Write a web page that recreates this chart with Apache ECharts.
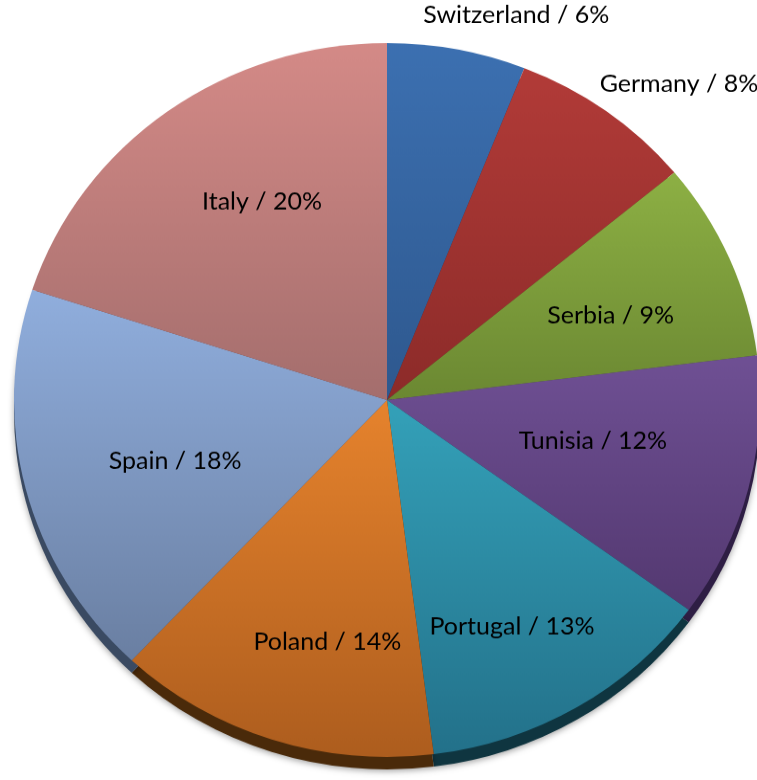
<!DOCTYPE html>
<html>
<head>
<meta charset="utf-8">
<script src="https://cdn.jsdelivr.net/npm/echarts@6/dist/echarts.min.js"></script>
<style>
    html, body {
        margin: 0;
        padding: 0;
        background: #fff;
        overflow: hidden;
    }

    #chart {
        position: absolute;
        left: 0;
        top: -40px;
        width: 757px;
        height: 840px;
        /* pie is seen slightly from above, squash it into an ellipse */
        transform: scaleY(0.957);
        transform-origin: 0 440px;
    }
</style>
</head>
<body>
<div id="chart"></div>
<script>
const countries = ['Switzerland', 'Germany', 'Serbia', 'Tunisia', 'Portugal', 'Poland', 'Spain', 'Italy']
const shares = [6, 8, 9, 12, 13, 14, 18, 20]

// top / bottom colour of each slice, and the colour of its side (rim)
const topColors = ['#3c70b1', '#b23b38', '#8db044', '#6f5094', '#34a1b9', '#e6832d', '#90aedd', '#d48a87']
const bottomColors = ['#2e588e', '#8c2b29', '#6b8832', '#533870', '#23718a', '#ad5d1e', '#6a7fa2', '#a46e6d']
const rimColors = ['#1e3a60', '#5a1c1a', '#465a20', '#2e1e44', '#0f3540', '#4a2a0a', '#3a4a62', '#6a4444']

// nudges of the labels away from the slice middle (the two small ones sit outside)
const labelShift = {
    0: {dx: 84, dy: -165},
    1: {dx: 150, dy: -135},
    2: {dx: 2, dy: 8},
    3: {dx: -28, dy: -17},
    4: {dx: 2, dy: 29},
    5: {dx: 15, dy: 23},
    6: {dx: 22, dy: 4},
    7: {dx: 17, dy: -12}
}

const center = [387, 440]
const R = 373

const chartObj = echarts.init(document.getElementById('chart'))

function gradient(i) {
    return new echarts.graphic.LinearGradient(0, 0, 0, 1, [
        {offset: 0, color: topColors[i]},
        {offset: 1, color: bottomColors[i]}
    ])
}

const option = {
    backgroundColor: '#fff',
    animation: false,
    series: [
        {
            // side of the pie, drawn under the top face
            type: 'pie',
            silent: true,
            center: [center[0], center[1] + 13],
            radius: R,
            clockwise: true,
            startAngle: 90,
            label: {show: false},
            labelLine: {show: false},
            itemStyle: {
                shadowColor: 'rgba(0,0,0,0.35)',
                shadowBlur: 6,
                shadowOffsetY: 2
            },
            data: countries.map((name, i) => ({
                name: name,
                value: shares[i],
                itemStyle: {color: rimColors[i]}
            }))
        },
        {
            type: 'pie',
            silent: true,
            center: center,
            radius: R,
            clockwise: true,
            startAngle: 90,
            label: {show: false},
            labelLine: {show: false},
            itemStyle: {borderWidth: 0},
            data: countries.map((name, i) => ({
                name: name,
                value: shares[i],
                itemStyle: {color: gradient(i)}
            }))
        },
        {
            // transparent copy that only carries the labels
            type: 'pie',
            silent: true,
            center: center,
            radius: [104, R],
            clockwise: true,
            startAngle: 90,
            itemStyle: {color: 'rgba(0,0,0,0)'},
            labelLine: {show: false},
            label: {
                show: true,
                position: 'inside',
                formatter: p => p.name + ' / ' + p.value + '%',
                color: '#000',
                fontSize: 25,
                fontFamily: 'Lato, "Open Sans", sans-serif'
            },
            labelLayout: params => labelShift[params.dataIndex] || {},
            data: countries.map((name, i) => ({name: name, value: shares[i]}))
        }
    ]
}

chartObj.setOption(option)
</script>
</body>
</html>
